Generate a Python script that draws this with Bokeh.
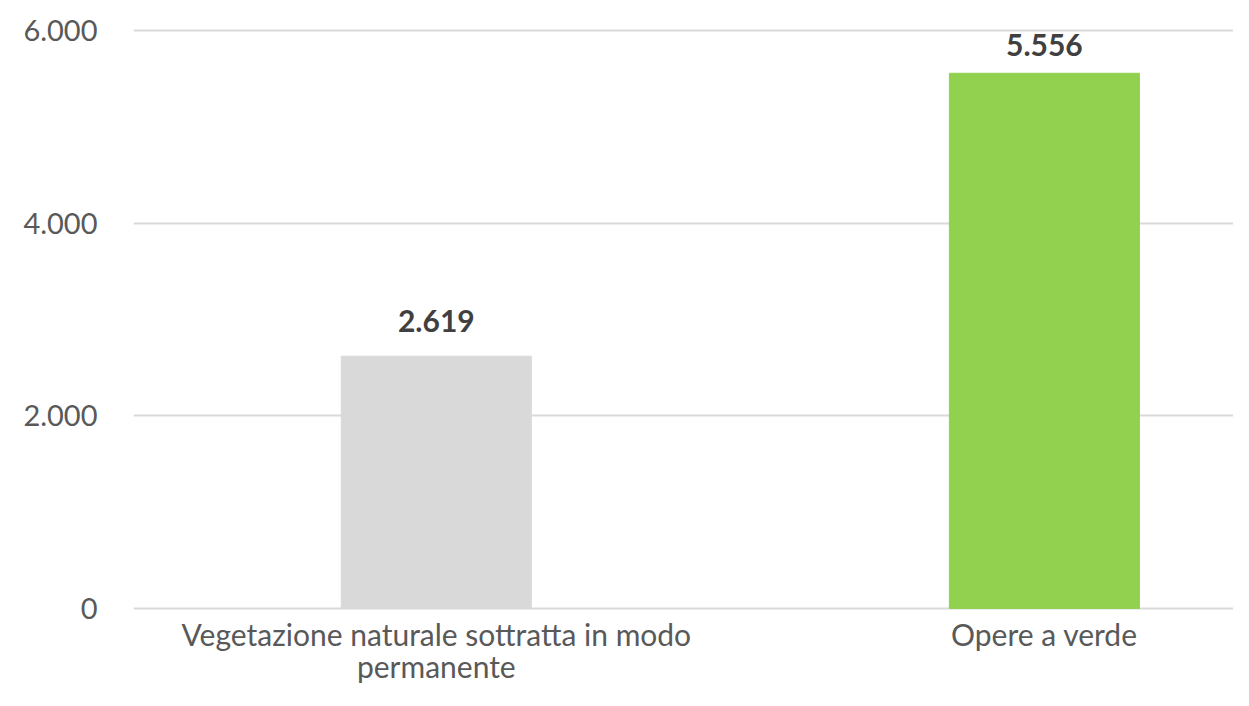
from bokeh.plotting import figure
from bokeh.models import ColumnDataSource, Range1d, FixedTicker, LabelSet
from bokeh.core.properties import value
from bokeh.embed import file_html
from bokeh.resources import INLINE

categories = ["Vegetazione naturale sottratta in modo\npermanente", "Opere a verde"]
values = [2619, 5556]
bar_colors = ["#d9d9d9", "#92d050"]
value_labels = ["2.619", "5.556"]
y_ticks = [0, 2000, 4000, 6000]
y_tick_labels = ["0", "2.000", "4.000", "6.000"]

# style: label distance above bar (px); the top label is squeezed as in the original
label_offsets = [24, 17]

FONT = "Lato"

xs = list(range(len(categories)))
source = ColumnDataSource(dict(x=xs, top=values, color=bar_colors, label=value_labels,
                               off=label_offsets))
cat_source = ColumnDataSource(dict(x=xs, y=[0] * len(xs), text=categories))

# frame layout: 6000 -> 30px from top, 0 -> 608px; frame spans 10..690
PX_PER_UNIT = 578 / 6000
y_top = 6000 + 20 / PX_PER_UNIT
y_bottom = -82 / PX_PER_UNIT

p = figure(width=1233, height=690, output_backend="svg", toolbar_location=None,
           x_range=Range1d(-0.498, 1.311), y_range=Range1d(y_bottom, y_top),
           x_axis_location=None,
           min_border_left=133, min_border_right=0, min_border_top=10, min_border_bottom=0)
p.outline_line_color = None
p.background_fill_color = "white"
p.border_fill_color = "white"

p.vbar(x="x", top="top", width=0.3125, bottom=0, color="color", source=source)

labels = LabelSet(x="x", y="top", text="label", source=source, text_align="center",
                  text_baseline="alphabetic", y_offset="off", text_font=value(FONT),
                  text_font_style="bold", text_font_size=value("30px"), text_color="#404040")
p.add_layout(labels)

# category labels below the zero line
p.text(x="x", y="y", text="text", source=cat_source, text_align="center",
       text_baseline="top", y_offset=7, text_font=value(FONT),
       text_font_size=value("30px"), text_color="#595959", text_line_height=0.9)

yax = p.yaxis[0]
yax.ticker = FixedTicker(ticks=y_ticks)
yax.major_label_overrides = {t: l for t, l in zip(y_ticks, y_tick_labels)}
yax.axis_line_color = None
yax.major_tick_line_color = None
yax.minor_tick_line_color = None
yax.major_tick_out = 0
yax.major_tick_in = 0
yax.minor_tick_out = 0
yax.major_label_text_font = FONT
yax.major_label_text_color = "#595959"
yax.major_label_text_font_size = "29px"
yax.major_label_standoff = 36

p.xgrid.grid_line_color = None
p.ygrid.grid_line_color = "#d9d9d9"
p.ygrid.grid_line_width = 2
p.ygrid.ticker = FixedTicker(ticks=y_ticks)

open("out.html", "w").write(file_html(p, INLINE))
